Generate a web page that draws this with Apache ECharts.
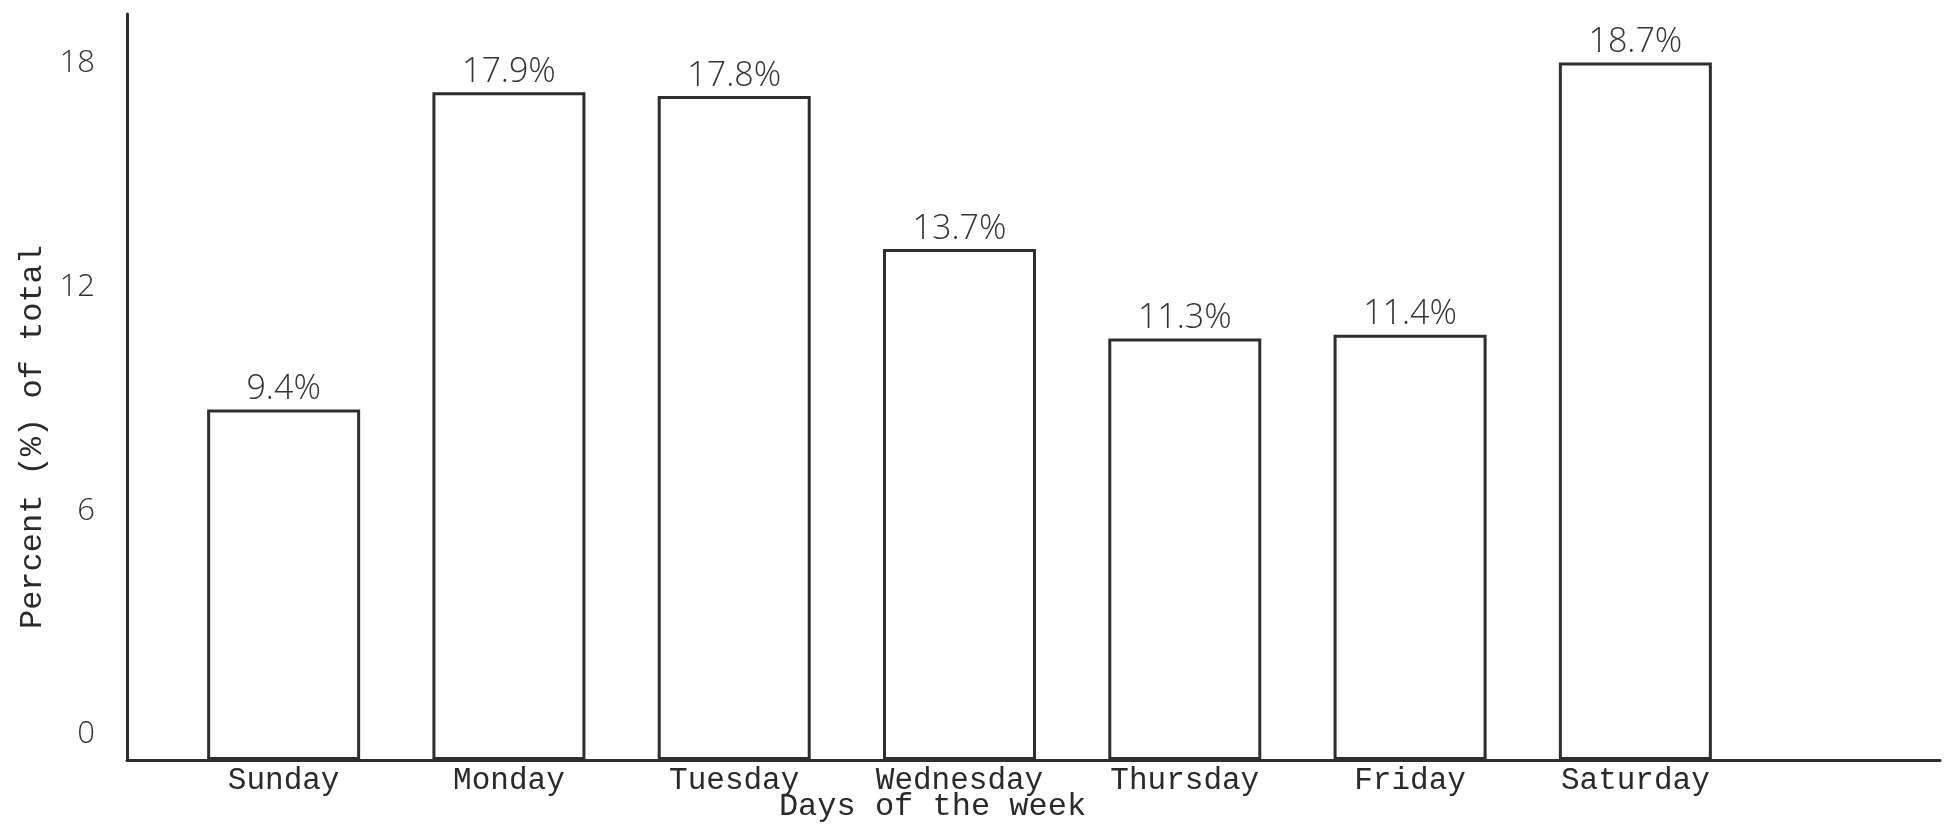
<!DOCTYPE html>
<html>
<head>
<meta charset="utf-8">
<script src="https://cdn.jsdelivr.net/npm/echarts@6/dist/echarts.min.js"></script>
<style>
  html, body { margin: 0; padding: 0; background: #ffffff; }
  #chart { width: 1950px; height: 831px; }
</style>
</head>
<body>
<div id="chart"></div>
<script>
const days = ['Sunday', 'Monday', 'Tuesday', 'Wednesday', 'Thursday', 'Friday', 'Saturday'];
const percentValues = [9.4, 17.9, 17.8, 13.7, 11.3, 11.4, 18.7];
const yTickValues = [0, 6, 12, 18];
const xTitle = 'Days of the week';
const yTitle = 'Percent (%) of total';

const ink = '#2e2e2e';
const typeFont = '"Liberation Mono", "Courier New", monospace';
const handFont = '"Open Sans", "Noto Sans", sans-serif';

const chart = echarts.init(document.getElementById('chart'));
chart.setOption({
  backgroundColor: '#ffffff',
  animation: false,
  grid: [
    { left: 171, right: 202, top: 14, bottom: 71 },
    { left: 127, right: 10, top: 14, bottom: 71 }
  ],
  xAxis: [
    {
      type: 'category', gridIndex: 0, data: days,
      axisLine: { show: false }, axisTick: { show: false },
      axisLabel: { fontFamily: typeFont, fontSize: 31, color: '#2a2a2a', margin: 5 }
    },
    {
      type: 'value', gridIndex: 1, min: 0, max: 1,
      axisLine: { show: true, lineStyle: { color: ink, width: 3 } },
      axisTick: { show: false }, axisLabel: { show: false }, splitLine: { show: false },
      name: xTitle, nameLocation: 'middle', nameGap: 31,
      nameTextStyle: { fontFamily: typeFont, fontSize: 32, color: '#2a2a2a', padding: [0, 202, 0, 0] }
    }
  ],
  yAxis: [
    {
      type: 'value', gridIndex: 0, min: 0, max: 20, interval: 2,
      show: false, splitLine: { show: false }
    },
    {
      type: 'value', gridIndex: 1, min: 0, max: 20, interval: 6,
      axisLine: { show: true, lineStyle: { color: ink, width: 3 } },
      axisTick: { show: false }, splitLine: { show: false },
      axisLabel: {
        fontFamily: handFont, fontWeight: 300, fontSize: 31, color: '#333333', margin: 32,
        verticalAlign: 'bottom', padding: [0, 0, 10, 0],
        formatter: v => (yTickValues.indexOf(v) >= 0 ? String(v) : '')
      },
      name: yTitle, nameLocation: 'middle', nameGap: 74, nameRotate: 90,
      nameTextStyle: { fontFamily: typeFont, fontSize: 32, color: '#2a2a2a', padding: [0, 100, 0, 0] }
    }
  ],
  series: [
    {
      type: 'bar', xAxisIndex: 0, yAxisIndex: 0, data: percentValues,
      barWidth: 153,
      itemStyle: { color: '#ffffff', borderColor: ink, borderWidth: 3 },
      label: {
        show: true, position: 'top', distance: 3,
        formatter: p => p.value + '%',
        fontFamily: handFont, fontWeight: 300, fontSize: 34, color: '#333333'
      }
    }
  ]
});
</script>
</body>
</html>
